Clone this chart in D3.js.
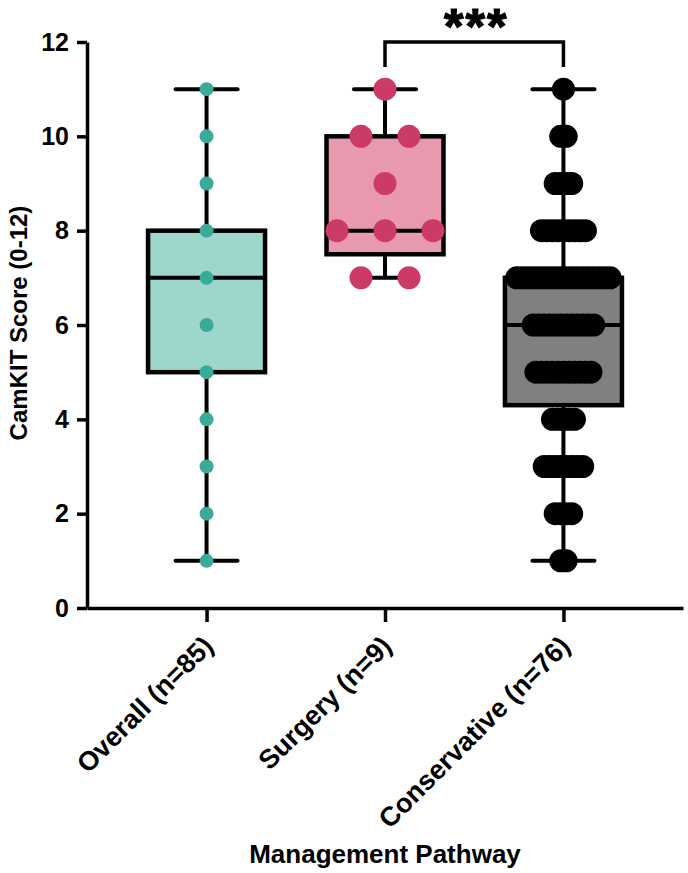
<!DOCTYPE html>
<html>
<head>
<meta charset="utf-8">
<script src="https://cdn.jsdelivr.net/npm/d3@7"></script>
<style>
  body { margin: 0; background: #fff; }
  text { font-family: "Liberation Sans", Arial, sans-serif; font-weight: bold; fill: #000; }
</style>
</head>
<body>
<div id="chart"></div>
<script>
var svgWidth = 688;
var svgHeight = 873;

// Data
var categories = ["Overall (n=85)", "Surgery (n=9)", "Conservative (n=76)"];
var overallScores = [1, 2, 3, 4, 5, 6, 7, 8, 9, 10, 11];
var surgeryScores = [7, 7, 8, 8, 8, 9, 10, 10, 11];
var scoreLevels = [1, 2, 3, 4, 5, 6, 7, 8, 9, 10, 11];
var conservativeCounts = [2, 4, 8, 5, 11, 12, 18, 9, 4, 2, 1];

// box stats per group (min, Q1, median, Q3, max)
var boxMin = [1, 7, 1];
var boxQ1 = [5, 7.5, 4.3];
var boxMedian = [7, 8, 6];
var boxQ3 = [8, 10, 7];
var boxMax = [11, 11, 11];

var yTicks = [0, 2, 4, 6, 8, 10, 12];
var sigLabel = "***";

var boxFill = ["#9dd6cc", "#e899ae", "#808080"];
var dotFill = ["#3aaa9b", "#cc3a68", "#000000"];
var dotRadius = [7, 11.5, 11.5];
var dotSpacing = [0, 48, 5.5];

var margin = { top: 42, left: 87, right: 5, bottom: 265 };

var svg = d3.select("#chart")
    .append("svg")
    .attr("width", svgWidth)
    .attr("height", svgHeight);

var y = d3.scaleLinear()
    .domain([0, 12])
    .range([svgHeight - margin.bottom, margin.top]);

var x = d3.scalePoint()
    .domain(categories)
    .range([margin.left, svgWidth - margin.right])
    .padding(0.67);

// axes
var yAxis = svg.append("g")
    .attr("transform", `translate(${margin.left},0)`)
    .call(d3.axisLeft(y).tickValues(yTicks).tickSize(10).tickSizeOuter(0).tickPadding(8));

var xAxis = svg.append("g")
    .attr("transform", `translate(0,${y(0)})`)
    .call(d3.axisBottom(x).tickSize(14).tickSizeOuter(0));

[yAxis, xAxis].forEach(function(ax) {
    ax.selectAll("path, line")
        .attr("stroke", "#000")
        .attr("stroke-width", 3.5);
});

yAxis.selectAll("text")
    .style("font-size", "25px");

xAxis.selectAll("text")
    .style("font-size", "27px")
    .attr("text-anchor", "end")
    .attr("x", 0)
    .attr("y", 0)
    .attr("dy", "0.35em")
    .attr("transform", "translate(1,33) rotate(-45)");

svg.append("text")
    .attr("transform", "translate(27,323) rotate(-90)")
    .attr("text-anchor", "middle")
    .style("font-size", "24px")
    .text("CamKIT Score (0-12)");

svg.append("text")
    .attr("x", x(categories[1]))
    .attr("y", 863)
    .attr("text-anchor", "middle")
    .style("font-size", "26px")
    .text("Management Pathway");

// boxes
var boxWidth = 117;
var capWidth = 62;
var groups = categories.map(function(c, i) {
    return { cat: c, i: i, min: boxMin[i], q1: boxQ1[i], med: boxMedian[i], q3: boxQ3[i], max: boxMax[i] };
});

var boxG = svg.selectAll(".box")
    .data(groups)
    .enter()
    .append("g")
    .attr("class", "box");

// whiskers
boxG.append("line")
    .attr("x1", d => x(d.cat)).attr("x2", d => x(d.cat))
    .attr("y1", d => y(d.max)).attr("y2", d => y(d.min))
    .attr("stroke", "#000").attr("stroke-width", 4);

boxG.selectAll(".cap")
    .data(d => [{ cat: d.cat, v: d.min }, { cat: d.cat, v: d.max }])
    .enter()
    .append("line")
    .attr("x1", d => x(d.cat) - capWidth / 2).attr("x2", d => x(d.cat) + capWidth / 2)
    .attr("y1", d => y(d.v)).attr("y2", d => y(d.v))
    .attr("stroke", "#000").attr("stroke-width", 4)
    .attr("stroke-linecap", "round");

boxG.append("rect")
    .attr("x", d => x(d.cat) - boxWidth / 2)
    .attr("width", boxWidth)
    .attr("y", d => y(d.q3))
    .attr("height", d => y(d.q1) - y(d.q3))
    .attr("fill", d => boxFill[d.i])
    .attr("stroke", "#000")
    .attr("stroke-width", 4.5);

boxG.append("line")
    .attr("x1", d => x(d.cat) - boxWidth / 2).attr("x2", d => x(d.cat) + boxWidth / 2)
    .attr("y1", d => y(d.med)).attr("y2", d => y(d.med))
    .attr("stroke", "#000").attr("stroke-width", 4);

// dots: spread horizontally when several share a score
function spreadDots(scores, gi) {
    var byValue = d3.group(scores, v => v);
    var out = [];
    byValue.forEach(function(vals, v) {
        var n = vals.length;
        vals.forEach(function(_, k) {
            out.push({ g: gi, v: v, off: (k - (n - 1) / 2) * dotSpacing[gi] });
        });
    });
    return out;
}

var conservativeScores = [];
scoreLevels.forEach(function(s, k) {
    for (var j = 0; j < conservativeCounts[k]; j++) conservativeScores.push(s);
});

var dots = spreadDots(overallScores, 0)
    .concat(spreadDots(surgeryScores, 1))
    .concat(spreadDots(conservativeScores, 2));

svg.append("g")
    .selectAll("circle")
    .data(dots)
    .enter()
    .append("circle")
    .attr("cx", d => x(categories[d.g]) + d.off)
    .attr("cy", d => y(d.v))
    .attr("r", d => dotRadius[d.g])
    .attr("fill", d => dotFill[d.g]);

// significance bracket
var bx1 = x(categories[1]), bx2 = x(categories[2]), by = 42;
svg.append("path")
    .attr("d", `M${bx1},${by + 25}V${by}H${bx2}V${by + 25}`)
    .attr("fill", "none")
    .attr("stroke", "#000")
    .attr("stroke-width", 3.5);

svg.append("text")
    .attr("x", (bx1 + bx2) / 2 + 2)
    .attr("y", 44)
    .attr("text-anchor", "middle")
    .style("font-size", "50px")
    .style("letter-spacing", "2px")
    .attr("stroke", "#000")
    .attr("stroke-width", 1.2)
    .text(sigLabel);
</script>
</body>
</html>
